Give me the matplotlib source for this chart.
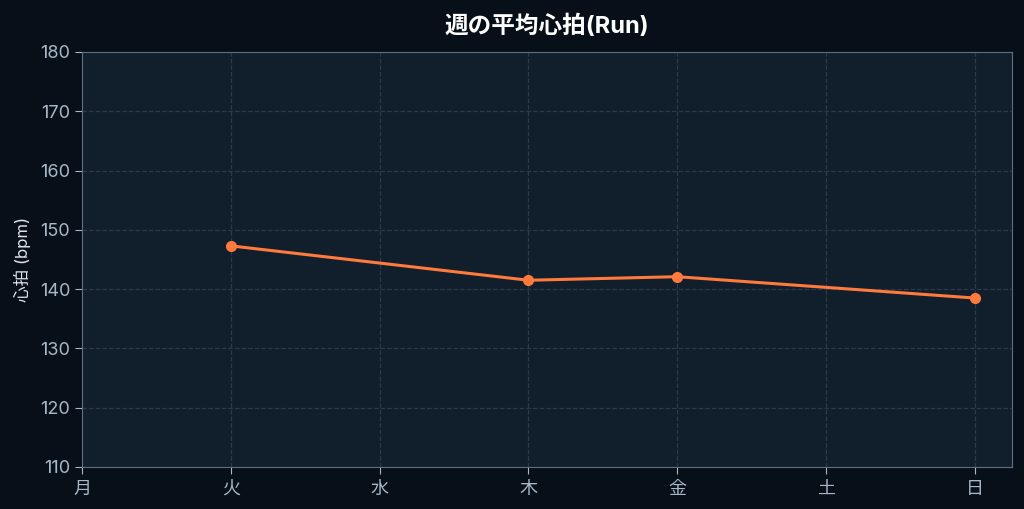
import matplotlib
matplotlib.use("Agg")
import numpy as np
import matplotlib.pyplot as plt

plt.rcParams['font.family'] = ['Inter', 'Noto Sans CJK JP', 'DejaVu Sans']

days = ['月', '火', '水', '木', '金', '土', '日']
run_days = ['火', '木', '金', '日']
avg_hr = [147.3, 141.5, 142.1, 138.5]

x_pos = [days.index(d) for d in run_days]

fig = plt.figure(figsize=(10.24, 5.09), dpi=100, facecolor='#070f18')
ax = fig.add_axes([82/1024, 1-467/509, (1012-82)/1024, (467-52)/509])
ax.set_facecolor('#111e2b')

ax.plot(x_pos, avg_hr, color='#ff7a3d', lw=2.2, marker='o', ms=7, zorder=3)

ax.set_xlim(0, 6.25)
ax.set_ylim(110, 180)
ax.set_xticks(range(len(days)))
ax.set_xticklabels(days)
ax.set_yticks(np.arange(110, 181, 10))
ax.grid(True, color='#2b3a4a', ls='--', lw=0.9)
ax.set_axisbelow(True)

for s in ax.spines.values():
    s.set_color('#5d6f80')
ax.tick_params(colors='#a9b8c6', labelsize=13, length=5, color='#a9b8c6')
ax.tick_params(axis='x', pad=5)
ax.set_ylabel('心拍 (bpm)', color='#dfe6ee', fontsize=12, labelpad=6)
ax.set_title('週の平均心拍(Run)', color='white', fontsize=17, fontweight='bold', pad=14)

fig.savefig('out.png', dpi=100, facecolor=fig.get_facecolor())
